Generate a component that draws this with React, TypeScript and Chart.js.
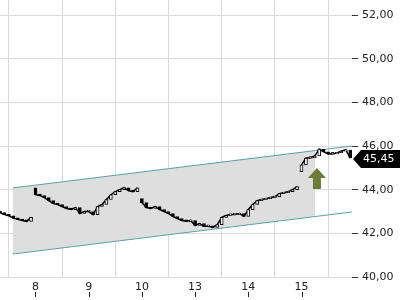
import React, { useEffect, useRef } from 'react';
import { Chart, registerables } from 'chart.js';
Chart.register(...registerables);

// Trading days (index -1 = day 7, partially visible)
const DAY_INDEX = [-1, 0, 1, 2, 3, 4, 5];
const DAY_FIRST_SLOT = [4, 0, 0, 0, 0, 0, 0];
const DAY_OPENS_WITH_GAP = [false, true, false, true, false, false, true];
const SLOTS_PER_DAY = 12;

// Opening price of each day's first visible candle
const DAY_OPENS = [42.98, 44.09, 43.0, 43.59, 42.59, 42.77, 44.82];

// Closing prices per slot for each day
const DAY7 = [42.95, 42.86, 42.8, 42.7, 42.64, 42.59, 42.55, 42.73];
const DAY8 = [43.77, 43.73, 43.64, 43.5, 43.36, 43.32, 43.23, 43.14, 43.09, 43.18, 42.91, 43.0];
const DAY9 = [43.0, 42.86, 43.23, 43.32, 43.55, 43.77, 43.91, 44.0, 44.09, 43.95, 43.91, 44.09];
const DAY10 = [43.41, 43.18, 43.14, 43.23, 43.09, 43.0, 42.91, 42.77, 42.68, 42.59, 42.55, 42.59];
const DAY13 = [42.36, 42.45, 42.32, 42.32, 42.27, 42.4, 42.73, 42.82, 42.86, 42.86, 42.91, 42.77];
const DAY14 = [43.09, 43.32, 43.5, 43.55, 43.59, 43.64, 43.68, 43.82, 43.86, 43.91, 44.0, 44.14];
const DAY15 = [45.14, 45.45, 45.45, 45.55, 45.86, 45.73, 45.64, 45.64, 45.68, 45.77, 45.82, 45.45];
const DAY_CLOSES = [DAY7, DAY8, DAY9, DAY10, DAY13, DAY14, DAY15];

const X_TICKS = [0, 1, 2, 3, 4, 5];
const X_TICK_LABELS = ['8', '9', '10', '13', '14', '15'];
const Y_TICKS = [40, 42, 44, 46, 48, 50, 52];
const X_MIN = -0.667;
const X_MAX = 5.949;
const Y_MIN = 40;
const Y_MAX = 52.69;

// Trend channel
const CHANNEL_X = [-0.43, 5.949];
const CHANNEL_UPPER = [44.08, 46.0];
const CHANNEL_LOWER = [41.05, 42.98];
const SHADE_X = [-0.43, 5.26];
const SHADE_UPPER = [44.08, 45.79];
const SHADE_LOWER = [41.05, 42.77];

// Signal arrow
const ARROW_X = 5.29;
const ARROW_TOP = 44.99;
const ARROW_BOTTOM = 44.03;

const fmt = (v: number) => v.toFixed(2).replace('.', ',');

export default function App() {
  const ref = useRef<HTMLCanvasElement>(null);
  useEffect(() => {
    document.body.style.margin = '0';
    const candles: { x: number; y: [number, number] }[] = [];
    const closes: { x: number; y: number | null }[] = [];
    let prev = 0;
    DAY_CLOSES.forEach((arr, d) => {
      if (DAY_OPENS_WITH_GAP[d]) closes.push({ x: DAY_INDEX[d] - 0.02, y: null });
      arr.forEach((c, i) => {
        const open = i === 0 ? DAY_OPENS[d] : prev;
        const x = DAY_INDEX[d] + (DAY_FIRST_SLOT[d] + i) / SLOTS_PER_DAY;
        candles.push({ x, y: [open, c] });
        closes.push({ x, y: c });
        prev = c;
      });
    });
    const lastPrice = prev;
    const fills = candles.map((c) => (c.y[1] >= c.y[0] ? '#ffffff' : '#000000'));

    const toPts = (xs: number[], ys: number[]) => xs.map((x, i) => ({ x, y: ys[i] }));

    const overlay = {
      id: 'overlay',
      afterDraw(chart: any) {
        const ctx = chart.ctx;
        const xs = chart.scales.x;
        const ys = chart.scales.y;
        const area = chart.chartArea;
        ctx.save();
        // arrow
        const ax = xs.getPixelForValue(ARROW_X);
        const at = ys.getPixelForValue(ARROW_TOP);
        const ab = ys.getPixelForValue(ARROW_BOTTOM);
        ctx.fillStyle = '#6a7c3a';
        ctx.beginPath();
        ctx.moveTo(ax, at);
        ctx.lineTo(ax + 9, at + 10);
        ctx.lineTo(ax + 4, at + 10);
        ctx.lineTo(ax + 4, ab);
        ctx.lineTo(ax - 4, ab);
        ctx.lineTo(ax - 4, at + 10);
        ctx.lineTo(ax - 9, at + 10);
        ctx.closePath();
        ctx.fill();
        // x tick marks below labels
        ctx.strokeStyle = '#222';
        ctx.lineWidth = 1;
        X_TICKS.forEach((v) => {
          const px = Math.round(xs.getPixelForValue(v)) + 0.5;
          ctx.beginPath();
          ctx.moveTo(px, 292);
          ctx.lineTo(px, 297);
          ctx.stroke();
        });
        // price tag
        const py = ys.getPixelForValue(lastPrice) + 1;
        const left = area.right + 1;
        ctx.fillStyle = '#000';
        ctx.beginPath();
        ctx.moveTo(left, py);
        ctx.lineTo(left + 8, py - 9);
        ctx.lineTo(400, py - 9);
        ctx.lineTo(400, py + 9);
        ctx.lineTo(left + 8, py + 9);
        ctx.closePath();
        ctx.fill();
        ctx.fillStyle = '#fff';
        ctx.font = "11px 'DejaVu Sans'";
        ctx.textAlign = 'left';
        ctx.textBaseline = 'middle';
        ctx.fillText(fmt(lastPrice), left + 10, py + 0.5);
        ctx.restore();
      },
    };

    const chart = new Chart(ref.current as HTMLCanvasElement, {
      type: 'bar',
      data: {
        datasets: [
          {
            type: 'bar',
            data: candles as any,
            backgroundColor: fills,
            borderColor: '#000',
            borderWidth: 1,
            borderSkipped: false,
            barThickness: 3,
            minBarLength: 1.5,
            order: 0,
          } as any,
          {
            type: 'line',
            data: closes as any,
            borderColor: '#000',
            borderWidth: 1.5,
            pointRadius: 0,
            fill: false,
            spanGaps: false,
            order: 0.5,
          },
          {
            type: 'line',
            data: toPts(CHANNEL_X, CHANNEL_UPPER),
            borderColor: '#5f9ea0',
            borderWidth: 1,
            pointRadius: 0,
            fill: false,
            order: 1,
          },
          {
            type: 'line',
            data: toPts(CHANNEL_X, CHANNEL_LOWER),
            borderColor: '#5f9ea0',
            borderWidth: 1,
            pointRadius: 0,
            fill: false,
            order: 1,
          },
          {
            type: 'line',
            data: toPts(SHADE_X, SHADE_LOWER),
            borderWidth: 0,
            borderColor: 'rgba(0,0,0,0)',
            pointRadius: 0,
            fill: false,
            order: 3,
          },
          {
            type: 'line',
            data: toPts(SHADE_X, SHADE_UPPER),
            borderWidth: 0,
            borderColor: 'rgba(0,0,0,0)',
            backgroundColor: '#dedede',
            pointRadius: 0,
            fill: '-1',
            order: 2,
          },
        ],
      },
      options: {
        animation: false,
        responsive: true,
        maintainAspectRatio: false,
        layout: { padding: 0 },
        plugins: { legend: { display: false }, tooltip: { enabled: false } },
        scales: {
          x: {
            type: 'linear',
            min: X_MIN,
            max: X_MAX,
            offset: false,
            afterBuildTicks: (s: any) => {
              s.ticks = X_TICKS.map((v) => ({ value: v }));
            },
            afterFit: (s: any) => {
              s.height = 23;
              s.paddingLeft = 0;
              s.paddingRight = 0;
            },
            grid: { color: '#dadada', drawTicks: false, tickLength: 0 },
            border: { display: false },
            ticks: {
              autoSkip: false,
              maxRotation: 0,
              padding: 4,
              color: '#222',
              font: { family: "'DejaVu Sans'", size: 11 },
              callback: (v: any) => X_TICK_LABELS[X_TICKS.indexOf(Number(v))] ?? '',
            },
          },
          y: {
            type: 'linear',
            position: 'right',
            min: Y_MIN,
            max: Y_MAX,
            afterBuildTicks: (s: any) => {
              s.ticks = Y_TICKS.map((v) => ({ value: v }));
            },
            afterFit: (s: any) => {
              s.width = 48;
              s.paddingTop = 0;
              s.paddingBottom = 0;
            },
            grid: { color: '#dadada', tickColor: '#333', tickLength: 6 },
            border: { display: false },
            ticks: {
              padding: 4,
              color: '#222',
              font: { family: "'DejaVu Sans'", size: 11 },
              callback: (v: any) => fmt(Number(v)),
            },
          },
        },
      } as any,
      plugins: [overlay],
    });
    return () => chart.destroy();
  }, []);
  return (
    <div style={{ position: 'absolute', left: 0, top: 0, width: 400, height: 300 }}>
      <canvas ref={ref} />
    </div>
  );
}
